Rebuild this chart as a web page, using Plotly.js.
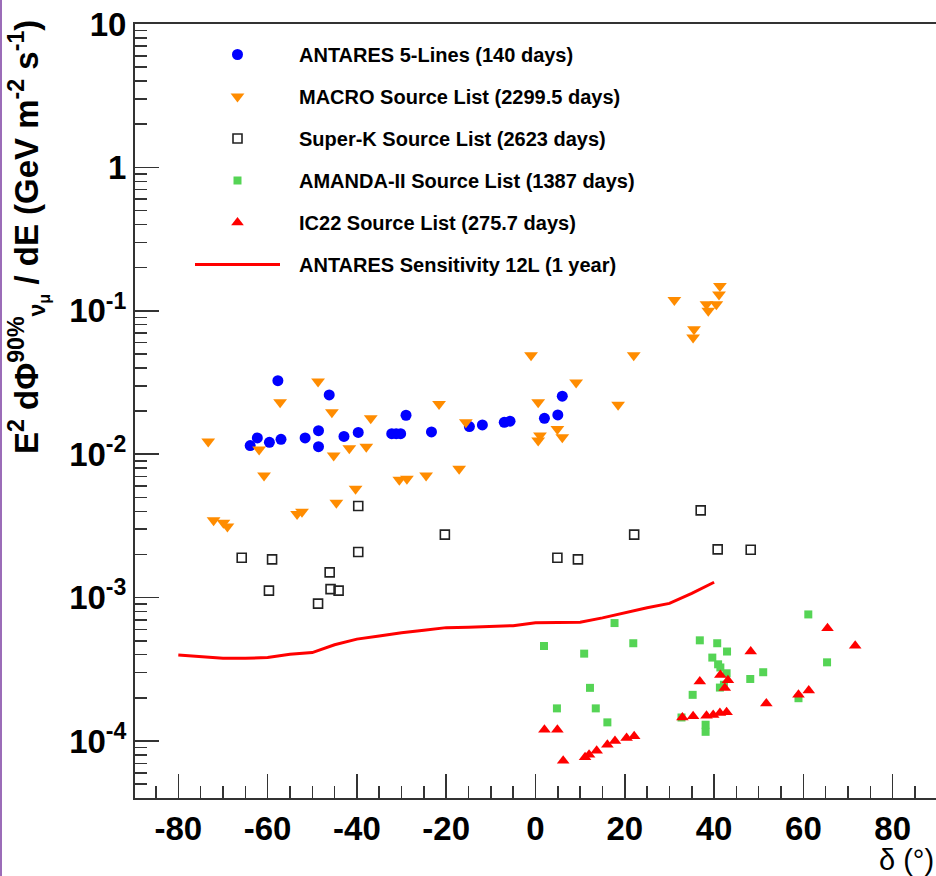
<!DOCTYPE html>
<html>
<head>
<meta charset="utf-8">
<script src="https://cdn.plot.ly/plotly-3.0.1.min.js"></script>
<style>
html,body{margin:0;padding:0;overflow:hidden;background:#fff;}
#edge{position:absolute;left:0;top:0;width:2px;height:876px;background:#9b6cb8;z-index:10;}
</style>
</head>
<body>
<div id="edge"></div>
<div id="chart" style="width:936px;height:876px;"></div>
<script>
// ANTARES 5-Lines (140 days)
const antaresX = [-63.9,-62.3,-59.6,-57.0,-57.7,-51.6,-48.6,-48.6,-46.2,-42.9,-39.7,-32.2,-31.2,-30.2,-29.0,-23.3,-14.8,-11.9,-7.0,-5.7,2.0,5.0,6.0];
const antaresY = [0.0115,0.0130,0.0121,0.0127,0.0326,0.0130,0.0146,0.0113,0.0259,0.0133,0.0142,0.0139,0.0139,0.0139,0.0187,0.0143,0.0156,0.0160,0.0167,0.0170,0.0178,0.0188,0.0254];
// MACRO Source List
const macroX = [-73.3,-72.1,-69.9,-69.0,-61.9,-60.8,-57.2,-53.4,-52.3,-48.7,-45.6,-45.2,-44.6,-41.7,-40.3,-37.9,-36.9,-30.5,-28.8,-24.5,-21.6,-17.1,-15.6,-1.0,0.6,1.0,0.6,4.9,6.0,9.1,18.5,22.0,31.1,35.5,35.3,38.3,38.7,40.5,41.3,41.1];
const macroY = [0.01225,0.00346,0.00333,0.00313,0.0108,0.00711,0.0230,0.00383,0.00397,0.0321,0.0196,0.00979,0.00459,0.0110,0.00574,0.0113,0.0178,0.00664,0.00675,0.00711,0.0224,0.00791,0.0167,0.0491,0.0230,0.0135,0.01245,0.0150,0.01315,0.0317,0.0221,0.0491,0.119,0.0745,0.0652,0.111,0.100,0.111,0.149,0.130];
// Super-K Source List
const superkX = [-65.8,-59.7,-59.0,-48.7,-46.1,-45.9,-44.1,-39.7,-39.7,-20.3,4.9,9.5,22.1,37.0,40.8,48.2];
const superkY = [0.0019,0.00112,0.00185,0.000908,0.0015,0.001146,0.00112,0.00436,0.00208,0.00275,0.0019,0.00185,0.00275,0.00406,0.00217,0.00216];
// AMANDA-II Source List
const amandaX = [1.9,4.8,10.9,12.2,13.5,16.1,17.7,21.9,32.7,35.2,36.8,38.1,38.1,39.6,40.7,40.9,41.4,41.3,42.2,42.8,42.9,48.1,51.0,58.9,61.1,65.3];
const amandaY = [0.000460,0.000169,0.000407,0.000235,0.000169,0.000135,0.000665,0.000481,0.000146,0.00021,0.000504,0.00013,0.000116,0.000382,0.000481,0.000343,0.000326,0.000236,0.000247,0.000297,0.000421,0.000271,0.000302,0.000199,0.000764,0.000354];
// IC22 Source List
const ic22X = [2.0,4.9,6.2,11.1,12.0,13.7,16.1,17.8,20.4,22.1,32.9,35.3,36.8,38.3,39.8,41.3,42.8,41.4,43.1,42.4,48.2,51.7,58.9,61.2,65.4,71.6];
const ic22Y = [0.00012,0.00012,0.0000729,0.0000771,0.0000804,0.0000856,0.0000942,0.0001,0.000105,0.000108,0.000146,0.000149,0.00026,0.00015,0.000152,0.000157,0.000159,0.000289,0.000265,0.000234,0.000421,0.000183,0.00021,0.000225,0.000611,0.000462];
// ANTARES Sensitivity 12L (1 year)
const sensX = [-80,-75,-70,-65,-60,-55,-50,-45,-40,-35,-30,-25,-20,-15,-10,-5,0,5,10,15,20,25,30,35,40];
const sensY = [0.000398,0.000387,0.000378,0.000378,0.000382,0.000403,0.000414,0.000469,0.000514,0.00054,0.00057,0.000592,0.000618,0.000622,0.000628,0.000638,0.000669,0.00067,0.000673,0.000723,0.000789,0.000851,0.000912,0.00107,0.00128];

const yTickVals = [10,1,0.1,0.01,0.001,0.0001];
const yTickText = ['10','1','10<sup>-1</sup>','10<sup>-2</sup>','10<sup>-3</sup>','10<sup>-4</sup>'];
const xTickVals = [-80,-60,-40,-20,0,20,40,60,80];
const xTickText = ['-80','-60','-40','-20','0','20','40','60','80'];

const names = ['ANTARES 5-Lines (140 days)','MACRO Source List (2299.5 days)','Super-K Source List (2623 days)','AMANDA-II Source List (1387 days)','IC22 Source List (275.7 days)','ANTARES Sensitivity 12L (1 year)'];

const FONT = 'Liberation Sans, Arial, Helvetica, sans-serif';
const PAD = '\u2002\u2009';

const traces = [
  {x: sensX, y: sensY, mode:'lines', name:PAD+names[5], legendgroup:'g6', legendrank:6,
   line:{color:'#ff0000', width:3}},
  {x: antaresX, y: antaresY, mode:'markers', name:PAD+names[0], legendgroup:'g1', legendrank:1,
   marker:{symbol:'circle', size:11, color:'#0000ff'}},
  {x: macroX, y: macroY, mode:'markers', name:PAD+names[1], legendgroup:'g2', legendrank:2,
   marker:{symbol:'triangle-down', size:12, color:'#ff8c00'}},
  {x: superkX, y: superkY, mode:'markers', name:PAD+names[2], legendgroup:'g3', legendrank:3,
   marker:{symbol:'square-open', size:9, color:'#222', line:{width:1.6, color:'#222'}}},
  {x: amandaX, y: amandaY, mode:'markers', name:PAD+names[3], legendgroup:'g4', legendrank:4,
   marker:{symbol:'square', size:8, color:'#55d455'}},
  {x: ic22X, y: ic22Y, mode:'markers', name:PAD+names[4], legendgroup:'g5', legendrank:5,
   marker:{symbol:'triangle-up', size:11, color:'#ff0000'}}
];

const layout = {
  width:936, height:876,
  margin:{l:135, r:0, t:24, b:78},
  paper_bgcolor:'#fff', plot_bgcolor:'#fff',
  font:{family:FONT, color:'#000'},
  showlegend:true,
  legend:{x:(190-135)/801, y:1-(35-24)/774, xanchor:'left', yanchor:'top',
    bgcolor:'rgba(0,0,0,0)', borderwidth:0, itemwidth:85, tracegroupgap:13,
    font:{size:20, family:FONT, weight:'bold', color:'#000'}},
  xaxis:{range:[-89.7,89.7], showgrid:false, zeroline:false,
    showline:true, linecolor:'#333', linewidth:2, mirror:true,
    ticks:'inside', ticklen:24, tickwidth:1.5, tickcolor:'#333',
    tickvals:xTickVals, ticktext:xTickText,
    tickfont:{size:33, family:FONT, weight:'bold', color:'#000'},
    minor:{ticks:'inside', ticklen:12, tickwidth:1.5, tickcolor:'#333', dtick:5, tick0:0, showgrid:false}},
  yaxis:{type:'log', range:[-4.397,1], showgrid:false, zeroline:false,
    showline:true, linecolor:'#333', linewidth:2, mirror:true,
    ticks:'inside', ticklen:24, tickwidth:1.5, tickcolor:'#333',
    tickvals:yTickVals, ticktext:yTickText,
    tickfont:{size:33, family:FONT, weight:'bold', color:'#000'},
    minor:{ticks:'inside', ticklen:12, tickwidth:1.5, tickcolor:'#333', dtick:'D1', showgrid:false}},
  annotations:[
    {xref:'paper', yref:'paper', x:(28-135)/801, y:1+(24-18)/774, xanchor:'center', yanchor:'top',
     textangle:-90, showarrow:false,
     text:'E<sup>2</sup> dΦ<sup>90%</sup><sub>ν<sub>μ</sub></sub> / dE (GeV m<sup>-2</sup> s<sup>-1</sup>)',
     font:{size:33, family:FONT, weight:'bold', color:'#000'}},
    {xref:'paper', yref:'paper', x:1, y:-(842-798)/774, xanchor:'right', yanchor:'top',
     showarrow:false, text:'δ (°)', font:{size:29, family:FONT, color:'#000'}}
  ]
};

Plotly.newPlot('chart', traces, layout, {displayModeBar:false, staticPlot:true});
</script>
</body>
</html>
